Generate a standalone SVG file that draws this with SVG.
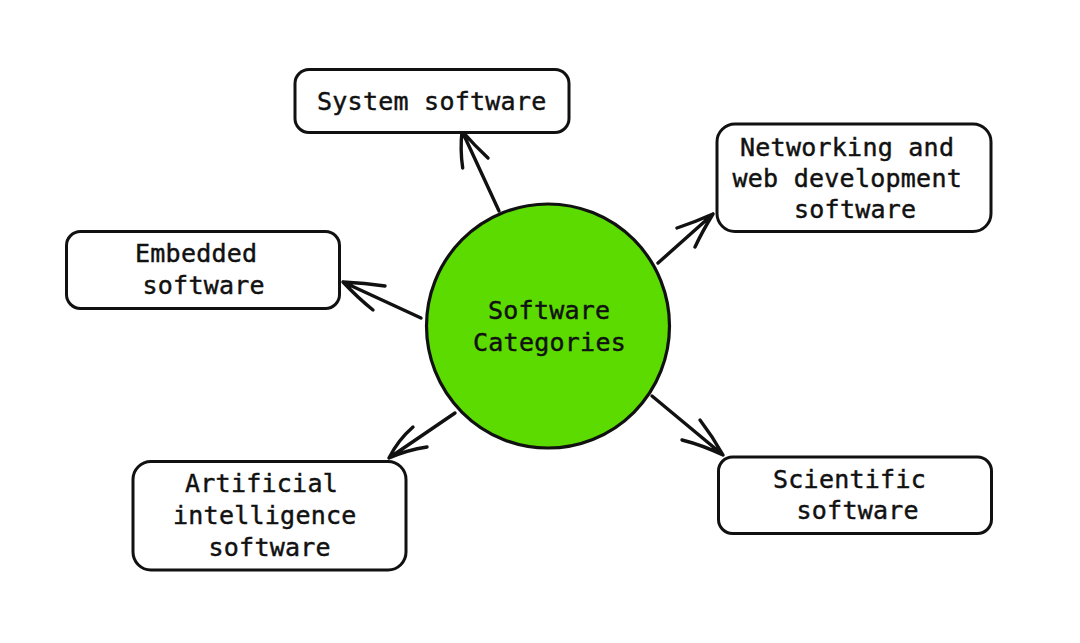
<svg xmlns="http://www.w3.org/2000/svg" width="1080" height="643" viewBox="0 0 1080 643">
<style>
.box{fill:#ffffff;stroke:#111;stroke-width:3;stroke-linejoin:round}
.t{font-family:"DejaVu Sans Mono","Liberation Mono",monospace;font-size:25px;letter-spacing:0.25px;fill:#111;stroke:#111;stroke-width:0.45px}
.c{fill:none;stroke:#111;stroke-width:3.4;stroke-linecap:round;stroke-linejoin:round}
</style>
<rect width="1080" height="643" fill="#ffffff"/>
<g id="connectors">
<path class="c" d="M499,211 L462,131 M462,131 Q460,150 462.7,168 M462,131 Q475,146 488,158"/>
<path class="c" d="M658,263 L713,214 M713,214 Q695,222 677,228 M713,214 Q702,232 695,247"/>
<path class="c" d="M421,318 L343,282 M343,282 Q365,283 385,286 M343,282 Q358,298 373,310"/>
<path class="c" d="M455,413 L389,458 M389,458 Q398,440 413,427 M389,458 Q407,450 427,447"/>
<path class="c" d="M652,396 L723,455 M723,455 Q713,437 700,420 M723,455 Q702,445 682,440"/>
</g>
<g id="center">
<ellipse cx="548" cy="326" rx="121.5" ry="122" fill="#5cdb00" stroke="#111" stroke-width="3.2"/>
<text class="t" x="488" y="319">Software</text>
<text class="t" x="473" y="351">Categories</text>
</g>
<g id="system">
<rect class="box" x="295" y="69.5" width="274" height="63" rx="14"/>
<text class="t" x="317" y="110">System software</text>
</g>
<g id="networking">
<rect class="box" x="717" y="124" width="274" height="107.5" rx="18"/>
<text class="t" x="740" y="156">Networking and</text>
<text class="t" x="732.5" y="187">web development</text>
<text class="t" x="794" y="218">software</text>
</g>
<g id="embedded">
<rect class="box" x="66.5" y="231.5" width="273" height="77" rx="14"/>
<text class="t" x="135" y="262">Embedded</text>
<text class="t" x="142.5" y="294">software</text>
</g>
<g id="ai">
<rect class="box" x="133" y="461.5" width="273" height="108.5" rx="18"/>
<text class="t" x="185" y="492">Artificial</text>
<text class="t" x="173" y="524">intelligence</text>
<text class="t" x="208.5" y="556">software</text>
</g>
<g id="scientific">
<rect class="box" x="718.5" y="457" width="273" height="76.5" rx="14"/>
<text class="t" x="773" y="488">Scientific</text>
<text class="t" x="796.5" y="519">software</text>
</g>
</svg>
